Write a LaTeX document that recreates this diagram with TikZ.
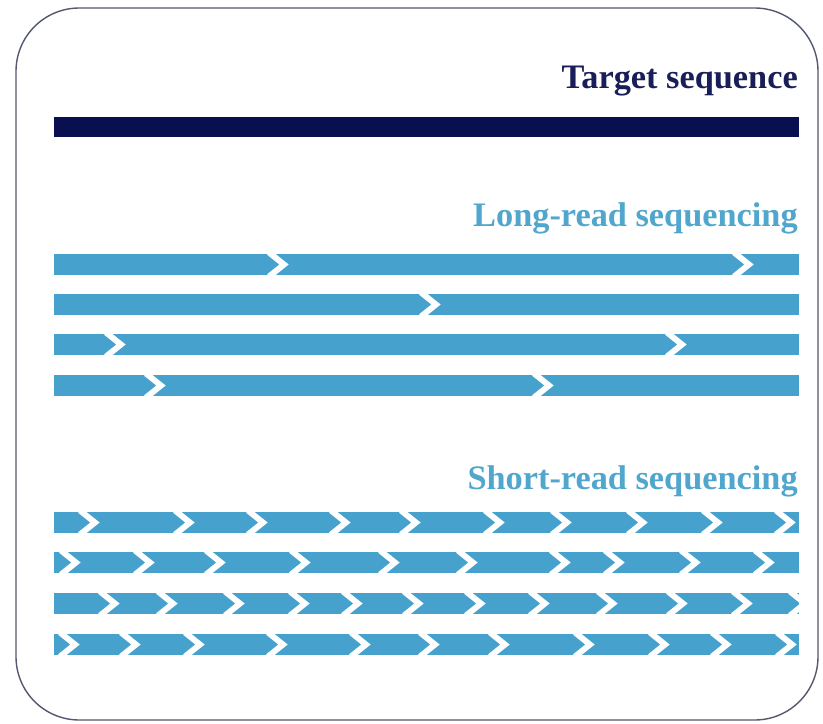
\documentclass[tikz,border=0pt]{standalone}
\usepackage{fontspec}
\setmainfont{Liberation Serif}
\usetikzlibrary{positioning}
\definecolor{navyseq}{RGB}{8,16,82}
\definecolor{navytext}{RGB}{26,30,88}
\definecolor{readblue}{RGB}{70,162,204}
\definecolor{labelblue}{RGB}{80,166,204}
\definecolor{framegray}{RGB}{84,88,110}

\begin{document}
\begin{tikzpicture}[
  x=0.3mm,y=-0.3mm,
  seqlabel/.style={anchor=base east,inner sep=0pt,
    font=\fontsize{29.3}{32}\selectfont\bfseries},
  readbar/.style={fill=readblue},
  gapcut/.style={draw=white,line width=5pt,miter limit=10}
]
\useasboundingbox (0,0) rectangle (823,724);
\draw[framegray,line width=1.2pt,rounded corners=19mm] (16,8) rectangle (818,720);

% target
\node[seqlabel,text=navytext] (target) at (798,89) {Target sequence};
\fill[navyseq] (54,117) rectangle (799,137);

% long reads
\node[seqlabel,text=labelblue] (longlab) at (798,226) {Long-read sequencing};
\foreach \y/\breaks in {254/{284,749}, 294/{436}, 334/{121,682}, 375/{161,549}} {
  \fill[readbar] (54,\y) rectangle (799,\y+21);
  \foreach \b in \breaks
    \draw[gapcut] (\b-15,\y-1.5) -- (\b,\y+10.5) -- (\b-15,\y+22.5);
}

% short reads
\node[seqlabel,text=labelblue] (shortlab) at (798,489) {Short-read sequencing};
\foreach \y/\breaks in {
    512/{95,190,263,346,416,500,567,643,718,791},
    552/{76,150,221,306,395,473,566,620,696,770},
    593/{115,173,240,305,358,419,481,545,613,683,748,805},
    634/{75,136,200,283,366,435,505,590,665,727,792}} {
  \fill[readbar] (54,\y) rectangle (799,\y+21);
  \foreach \b in \breaks
    \draw[gapcut] (\b-15,\y-1.5) -- (\b,\y+10.5) -- (\b-15,\y+22.5);
}
\end{tikzpicture}
\end{document}
